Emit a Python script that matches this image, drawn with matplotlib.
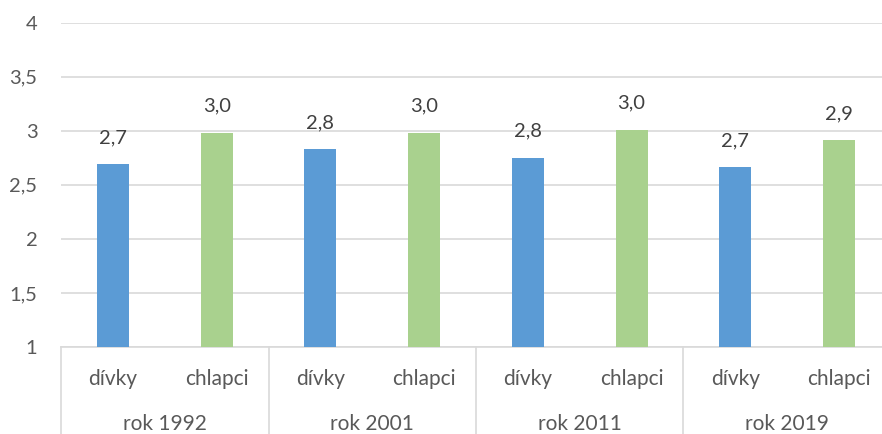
import matplotlib
matplotlib.use("Agg")
import matplotlib.pyplot as plt
import matplotlib.transforms as mtransforms

plt.rcParams['font.family'] = ['Lato', 'DejaVu Sans']

# data
years = ['rok 1992', 'rok 2001', 'rok 2011', 'rok 2019']
groups = ['dívky', 'chlapci']
divky = [2.69, 2.83, 2.75, 2.66]
chlapci = [2.98, 2.98, 3.01, 2.91]
yticks = [1, 1.5, 2, 2.5, 3, 3.5, 4]

blue = '#5B9BD5'
green = '#A9D18E'
grey_text = '#595959'
grid_col = '#D9D9D9'

fig = plt.figure(figsize=(8.82, 4.34), dpi=100)
ax = fig.add_axes([61 / 882, 87 / 434, 830 / 882, 324.5 / 434])

values = []
colors = []
labels = []
for d, c in zip(divky, chlapci):
    values += [d, c]
    colors += [blue, green]
    labels += groups
xs = list(range(len(values)))

bars = ax.bar(xs, [v - 1 for v in values], bottom=1, width=0.31, color=colors, zorder=3)

for x, v in zip(xs, values):
    ax.annotate(('%.1f' % v).replace('.', ','), (x, v), xytext=(0, 13),
                textcoords='offset points', ha='center', va='bottom',
                fontsize=14.5, color='#404040')

ax.set_xlim(-0.5, len(values) - 0.5)
ax.set_ylim(1, 4)
ax.set_yticks(yticks)
ax.set_yticklabels([('%g' % t).replace('.', ',') for t in yticks])
ax.tick_params(axis='y', length=0, pad=17, labelsize=14.5, labelcolor=grey_text)
ax.set_xticks([])
ax.grid(axis='y', color=grid_col, linewidth=1.2, zorder=0)
for s in ['top', 'right', 'left']:
    ax.spines[s].set_visible(False)
ax.spines['bottom'].set_color(grid_col)
ax.spines['bottom'].set_linewidth(1.2)

trans = mtransforms.blended_transform_factory(ax.transData, ax.transAxes)
for x, lab in zip(xs, labels):
    ax.text(x, -0.10, lab, transform=trans, ha='center', va='center',
            fontsize=15, color=grey_text)
for i, yr in enumerate(years):
    ax.text(2 * i + 0.5, -0.238, yr, transform=trans, ha='center', va='center',
            fontsize=15, color=grey_text)
for i in range(len(years) + 1):
    ax.plot([2 * i - 0.5, 2 * i - 0.5], [0, -0.4], transform=trans,
            color=grid_col, linewidth=1.2, clip_on=False)

fig.savefig('out.png', dpi=100)
